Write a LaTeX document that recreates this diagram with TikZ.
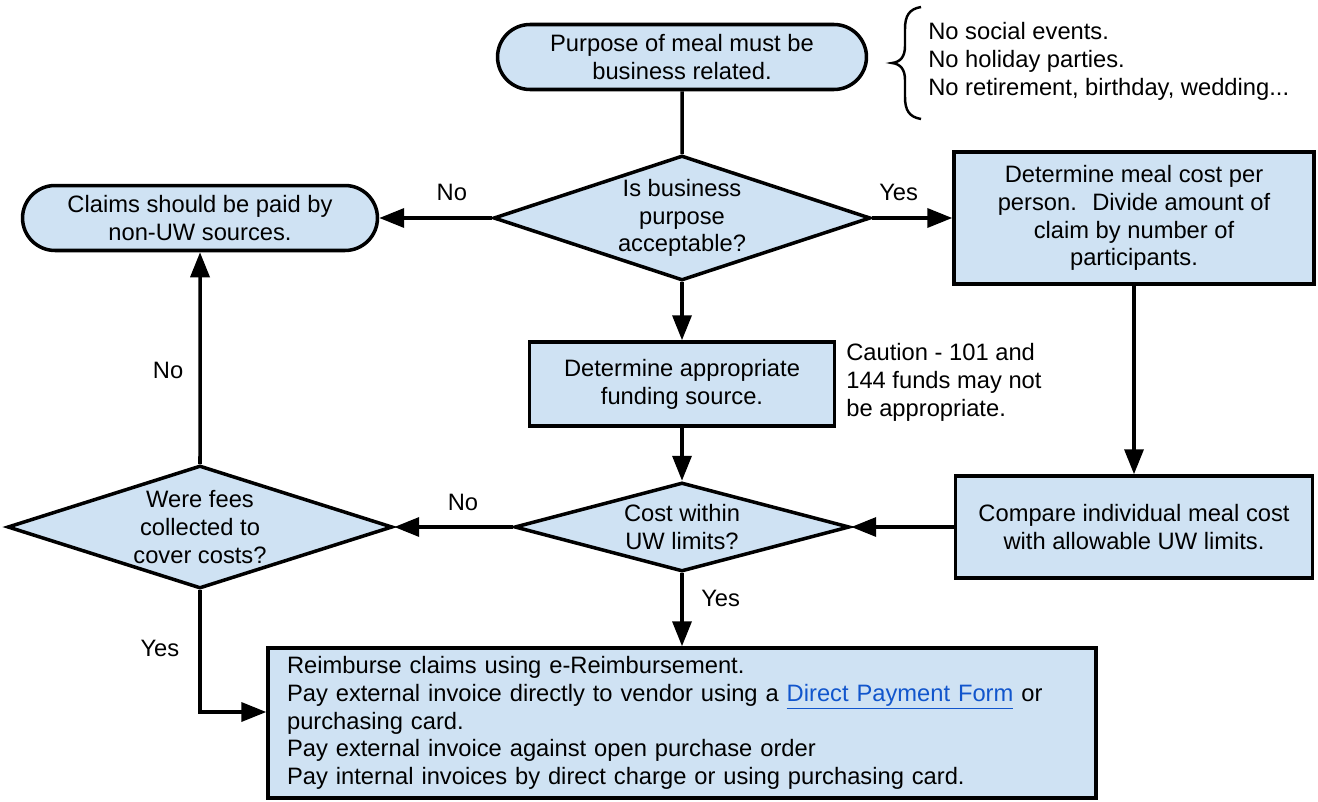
\documentclass[tikz,border=0pt]{standalone}
\usepackage{fontspec}
\setmainfont{Liberation Sans}
\usepackage{xcolor}
\usepackage{tikz}
\usetikzlibrary{shapes.geometric,shapes.misc,arrows.meta}
\definecolor{flowfill}{HTML}{CFE2F3}
\definecolor{linkblue}{HTML}{1155CC}

\begin{document}
\begin{tikzpicture}[
  x=0.02cm, y=-0.02cm,
  font=\fontsize{13.5}{15.8}\selectfont,
  shapeBase/.style={draw=black, fill=flowfill, line width=2pt, align=center, inner sep=0pt},
  termNode/.style={shapeBase, rounded rectangle, minimum height=1.3cm},
  procNode/.style={shapeBase, rectangle},
  decNode/.style={shapeBase, diamond},
  flow/.style={line width=2pt, -{Triangle[length=0.5cm,width=0.38cm]}},
  plainLink/.style={line width=2pt},
  lbl/.style={inner sep=0pt},
  noteTxt/.style={inner sep=0pt, align=left, anchor=north west},
]
% 1 unit = 1 px of the 1318x801 layout, y downwards
\useasboundingbox (0,0) rectangle (1318,801);

% start / end terminals
\node[termNode, minimum width=7.38cm] (purpose) at (682,57) {Purpose of meal must be\\business related.};
\node[termNode, minimum width=7.1cm] (claims) at (200,218) {Claims should be paid by\\non-UW sources.};

% decisions
\node[decNode, minimum width=7.54cm, minimum height=2.5cm, aspect=3] (qPurpose) at (682,218) {Is business\\purpose\\acceptable?};
\node[decNode, minimum width=6.7cm, minimum height=1.78cm, aspect=3.76] (qLimits) at (682,527) {Cost within\\UW limits?};
\node[decNode, minimum width=7.7cm, minimum height=2.46cm, aspect=3.13] (qFees) at (200,527) {Were fees\\collected to\\cover costs?};

% process boxes
\node[procNode, minimum width=7.2cm, minimum height=2.64cm] (perCost) at (1134,218) {Determine meal cost per\\person.~ Divide amount of\\claim by number of\\participants.};
\node[procNode, minimum width=6.1cm, minimum height=1.68cm] (funding) at (682,384) {Determine appropriate\\funding source.};
\node[procNode, minimum width=7.14cm, minimum height=2.04cm] (compare) at (1134,527) {Compare individual meal cost\\with allowable UW limits.};
\node[procNode, minimum width=16.56cm, minimum height=3cm, text width=15.8cm, align=left, inner xsep=0.38cm] (pay) at (682,723) {Reimburse claims using e-Reimbursement.\\
  Pay external invoice directly to vendor using a \textcolor{linkblue}{\underline{Direct Payment Form}} or\\
  purchasing card.\\
  Pay external invoice against open purchase order\\
  Pay internal invoices by direct charge or using purchasing card.};

% side notes
\node[noteTxt] (noParty) at (928,22) {No social events.\\No holiday parties.\\No retirement, birthday, wedding...};
\draw[line width=1.4pt] (921,119) .. controls (909,117) and (905,110) .. (905,97) -- (905,80)
  .. controls (905,70) and (901,64) .. (892,63) .. controls (901,62) and (905,56) .. (905,46)
  -- (905,29) .. controls (905,16) and (909,9) .. (921,7);
\node[noteTxt] (caution) at (846,343) {Caution - 101 and\\144 funds may not\\be appropriate.};

% connectors
\draw[plainLink] (purpose) -- (qPurpose);
\draw[flow] (qPurpose) -- node[lbl, above=9pt, pos=0.355] (noBiz) {No} (claims);
\draw[flow] (qPurpose) -- node[lbl, above=9pt, pos=0.33] (yesBiz) {Yes} (perCost);
\draw[flow] (qPurpose) -- (funding);
\draw[flow] (perCost) -- (compare);
\draw[flow] (funding) -- (qLimits);
\draw[flow] (compare) -- (qLimits);
\draw[flow] (qLimits) -- node[lbl, above=8pt, pos=0.42] (noLimit) {No} (qFees);
\draw[flow] (qFees) -- node[lbl, left=8.5pt, pos=0.44] (noFees) {No} (claims);
\draw[flow] (qLimits) -- node[lbl, right=10pt, pos=0.35] (yesLimit) {Yes} (pay);
\draw[flow] (qFees.south) |- node[lbl, left=10.8pt, pos=0.237] (yesFees) {Yes} ([yshift=0.22cm]pay.west);
\end{tikzpicture}
\end{document}
